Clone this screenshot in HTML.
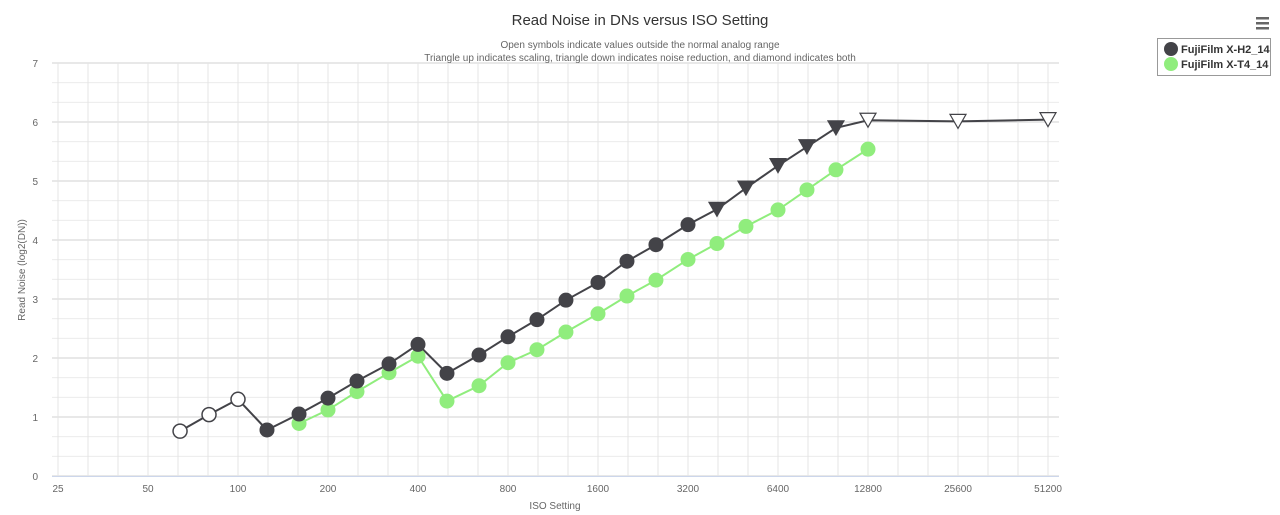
<!DOCTYPE html>
<html><head><meta charset="utf-8"><style>body{margin:0;background:#fff}svg{display:block;font-family:"Liberation Sans",sans-serif}</style></head>
<body><svg id="s" width="1280" height="515" xmlns="http://www.w3.org/2000/svg"></svg>
<script>
const s=document.getElementById('s');let h='';
const X=i=>58+90*Math.log2(i/25), Y=v=>476-59*v;
for(let k=0;k<=21;k++){const y=476-59*k/3;h+=`<line x1="52" x2="1059" y1="${y}" y2="${y}" stroke="${k%3?'#ececec':'#d0d0d0'}" stroke-width="1"/>`;}
for(let k=0;k<=33;k++){const x=58+30*k;if(x>1059)break;h+=`<line x1="${x}" x2="${x}" y1="63" y2="476" stroke="#e4e4e4"/>`;}
h+=`<line x1="52" x2="1059" y1="476.5" y2="476.5" stroke="#ccd6eb"/>`;
for(let k=0;k<=7;k++)h+=`<text x="38" y="${Y(k)+4}" font-size="10" fill="#666" text-anchor="end">${k}</text>`;
[25,50,100,200,400,800,1600,3200,6400,12800,25600,51200].forEach(i=>h+=`<text x="${X(i)}" y="492" font-size="10" fill="#666" text-anchor="middle">${i}</text>`);
h+=`<text x="640" y="25" font-size="15" fill="#333" text-anchor="middle">Read Noise in DNs versus ISO Setting</text>`;
h+=`<text x="640" y="48" font-size="10" fill="#666" text-anchor="middle">Open symbols indicate values outside the normal analog range</text>`;
h+=`<text x="640" y="61" font-size="10" fill="#666" text-anchor="middle">Triangle up indicates scaling, triangle down indicates noise reduction, and diamond indicates both</text>`;
h+=`<text x="555" y="509" font-size="10" fill="#666" text-anchor="middle">ISO Setting</text>`;
h+=`<text transform="translate(25,270) rotate(-90)" font-size="10" fill="#666" text-anchor="middle">Read Noise (log2(DN))</text>`;
const isos=[64,80,100,125,160,200,250,320,400,500,640,800,1000,1250,1600,2000,2500,3200,4000,5000,6400,8000,10000,12800,25600,51200];
const b=[0.76,1.04,1.30,0.78,1.05,1.32,1.61,1.90,2.23,1.74,2.05,2.36,2.65,2.98,3.28,3.64,3.92,4.26,4.52,4.88,5.26,5.58,5.90,6.03,6.01,6.04];
const g=[0.89,1.12,1.43,1.75,2.03,1.27,1.53,1.92,2.14,2.44,2.75,3.05,3.32,3.67,3.94,4.23,4.51,4.85,5.19,5.54];
const gi=isos.slice(4,24);
h+=`<polyline fill="none" stroke="#90ed7d" stroke-width="2" points="${gi.map((i,k)=>X(i)+','+Y(g[k])).join(' ')}"/>`;
h+=`<polyline fill="none" stroke="#434348" stroke-width="2" points="${isos.map((i,k)=>X(i)+','+Y(b[k])).join(' ')}"/>`;
gi.forEach((i,k)=>h+=`<circle cx="${X(i)}" cy="${Y(g[k])}" r="7.5" fill="#90ed7d"/>`);
isos.forEach((i,k)=>{const x=X(i),y=Y(b[k]);
 if(k<3)h+=`<circle cx="${x}" cy="${y}" r="7" fill="#fff" stroke="#434348" stroke-width="1.5"/>`;
 else if(k<18)h+=`<circle cx="${x}" cy="${y}" r="7.5" fill="#434348"/>`;
 else h+=`<path d="M${x-8},${y-7}L${x+8},${y-7}L${x},${y+7}Z" fill="${k<23?'#434348':'#fff'}" stroke="#434348" stroke-width="1.2"/>`;});
h+=`<rect x="1157.5" y="38.5" width="113" height="37" fill="#fff" stroke="#999"/>`;
h+=`<circle cx="1171" cy="49" r="7" fill="#434348"/><circle cx="1171" cy="64" r="7" fill="#90ed7d"/>`;
h+=`<text x="1181" y="53" font-size="11" font-weight="bold" fill="#333">FujiFilm X-H2_14</text><text x="1181" y="68" font-size="11" font-weight="bold" fill="#333">FujiFilm X-T4_14</text>`;
h+=`<rect x="1256" y="17" width="13" height="2.5" fill="#666"/><rect x="1256" y="22" width="13" height="2.5" fill="#666"/><rect x="1256" y="27" width="13" height="2.5" fill="#666"/>`;
s.innerHTML=h;
</script></body></html>
